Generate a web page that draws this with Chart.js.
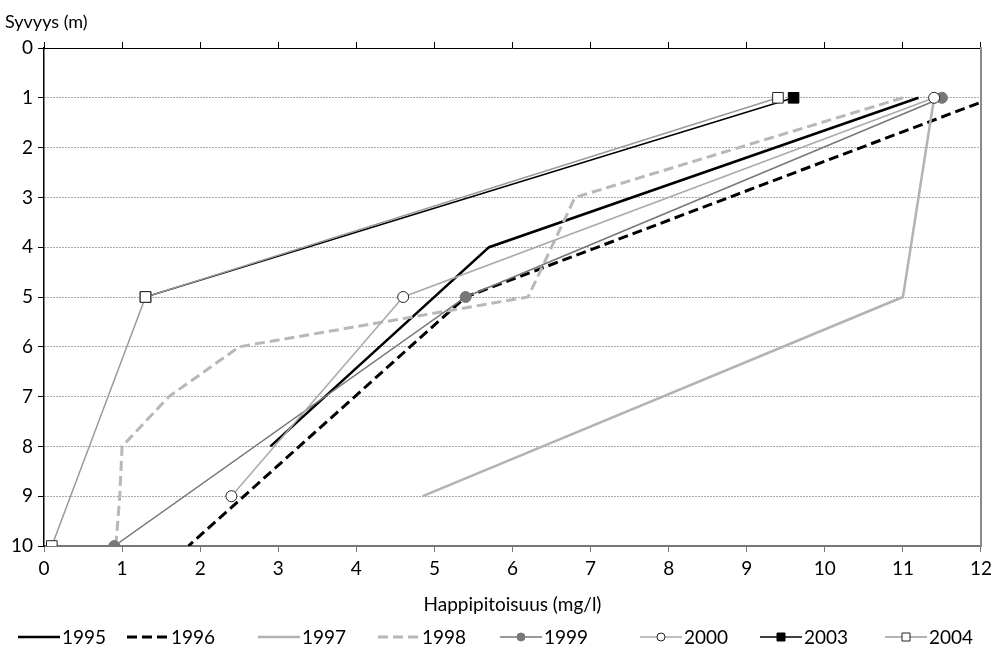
<!DOCTYPE html>
<html>
<head>
<meta charset="utf-8">
<script src="https://cdn.jsdelivr.net/npm/chart.js@4/dist/chart.umd.min.js"></script>
<style>
  html, body { margin: 0; padding: 0; background: #fff; }
  #wrap { width: 997px; height: 657px; }
</style>
</head>
<body>
<div id="wrap"><canvas id="chart"></canvas></div>
<script>
// oxygen (mg/l) against depth (m), one profile per year
var years = ['1995', '1996', '1997', '1998', '1999', '2000', '2003', '2004'];

var depth1995 = [1, 4, 8];
var oxygen1995 = [11.2, 5.7, 2.9];
var depth1996 = [1, 5, 10];
var oxygen1996 = [12.15, 5.4, 1.85];
var depth1997 = [1, 5, 9];
var oxygen1997 = [11.4, 11.0, 4.85];
var depth1998 = [1, 3, 5, 6, 7, 8, 9, 10];
var oxygen1998 = [11.0, 6.8, 6.2, 2.5, 1.6, 1.0, 0.97, 0.92];
var depth1999 = [1, 5, 10];
var oxygen1999 = [11.5, 5.4, 0.9];
var depth2000 = [1, 5, 9];
var oxygen2000 = [11.4, 4.6, 2.4];
var depth2003 = [1, 5];
var oxygen2003 = [9.6, 1.3];
var depth2004 = [1, 5, 10];
var oxygen2004 = [9.4, 1.3, 0.1];

var oxygenMin = 0, oxygenMax = 12;
var depthMin = 0, depthMax = 10;

var FONT = 'Lato, "Open Sans", sans-serif';

function points(xs, ys) {
    var out = [];
    for (var i = 0; i < xs.length; i++) out.push({x: xs[i], y: ys[i]});
    return out;
}

var series = [
    {data: points(oxygen1995, depth1995), color: '#000', width: 2.5, dash: []},
    {data: points(oxygen1996, depth1996), color: '#000', width: 3, dash: [10, 5]},
    {data: points(oxygen1997, depth1997), color: '#b3b3b3', width: 2.5, dash: []},
    {data: points(oxygen1998, depth1998), color: '#b8b8b8', width: 3, dash: [10, 5]},
    {data: points(oxygen1999, depth1999), color: '#777', width: 1.5, dash: [],
        marker: 'circle', fill: '#777', edge: '#777', r: 5.5},
    {data: points(oxygen2000, depth2000), color: '#aaa', width: 1.5, dash: [],
        marker: 'circle', fill: '#fff', edge: '#222', r: 5.5},
    {data: points(oxygen2003, depth2003), color: '#000', width: 1.5, dash: [],
        marker: 'rect', fill: '#000', edge: '#000', r: 7.5},
    {data: points(oxygen2004, depth2004), color: '#999', width: 1.5, dash: [],
        marker: 'rect', fill: '#fff', edge: '#222', r: 7.5}
];

var datasets = series.map(function(s, i) {
    return {
        label: years[i],
        data: s.data,
        showLine: true,
        borderColor: s.color,
        borderWidth: s.width,
        borderDash: s.dash,
        pointStyle: s.marker || 'circle',
        pointRadius: s.marker ? s.r : 0,
        pointHoverRadius: s.marker ? s.r : 0,
        pointBackgroundColor: s.fill || s.color,
        pointBorderColor: s.edge || s.color,
        pointBorderWidth: 1,
        order: series.length - i
    };
});

// y-axis caption and legend row under the chart
var extras = {
    id: 'extras',
    afterDraw: function(chart) {
        var ctx = chart.ctx;
        ctx.save();
        ctx.font = '18px ' + FONT;
        ctx.fillStyle = '#000';
        ctx.textBaseline = 'middle';
        ctx.textAlign = 'left';
        ctx.fillText('Syvyys (m)', 5, 22);

        var starts = [18, 127, 258, 378, 500, 640, 760, 885];
        var y = 637, len = 42;
        ctx.font = '19px ' + FONT;
        chart.data.datasets.forEach(function(ds, i) {
            var x0 = starts[i];
            ctx.beginPath();
            ctx.setLineDash(ds.borderDash);
            ctx.strokeStyle = ds.borderColor;
            ctx.lineWidth = ds.borderWidth;
            ctx.moveTo(x0, y);
            ctx.lineTo(x0 + len, y);
            ctx.stroke();
            ctx.setLineDash([]);
            if (ds.pointRadius > 0) {
                var cx = x0 + len / 2;
                ctx.beginPath();
                if (ds.pointStyle === 'rect') {
                    ctx.rect(cx - 4, y - 4, 8, 8);
                } else {
                    ctx.arc(cx, y, 4, 0, Math.PI * 2);
                }
                ctx.fillStyle = ds.pointBackgroundColor;
                ctx.fill();
                ctx.lineWidth = 1;
                ctx.strokeStyle = ds.pointBorderColor;
                ctx.stroke();
            }
            ctx.fillStyle = '#000';
            ctx.fillText(ds.label, x0 + len + 2, y + 1);
        });
        ctx.restore();
    }
};

new Chart(document.getElementById('chart'), {
    type: 'scatter',
    data: {datasets: datasets},
    plugins: [extras],
    options: {
        responsive: true,
        maintainAspectRatio: false,
        animation: false,
        layout: {padding: {left: 0, right: 14, top: 0, bottom: 41}},
        plugins: {
            legend: {display: false},
            tooltip: {enabled: false}
        },
        scales: {
            x: {
                type: 'linear',
                position: 'bottom',
                min: oxygenMin,
                max: oxygenMax,
                afterFit: function(s) { s.height = 70; },
                ticks: {stepSize: 1, color: '#000', padding: 5, font: {family: FONT, size: 19}},
                grid: {drawOnChartArea: false, drawTicks: true, tickLength: 6, tickColor: '#777', tickWidth: 1},
                border: {color: '#777', width: 2},
                title: {display: true, text: 'Happipitoisuus (mg/l)', color: '#000',
                    font: {family: FONT, size: 19}, padding: {top: 0, bottom: 0}}
            },
            x2: {
                type: 'linear',
                position: 'top',
                min: oxygenMin,
                max: oxygenMax,
                afterFit: function(s) { s.height = 48; },
                ticks: {display: false, stepSize: 1},
                grid: {drawOnChartArea: false, drawTicks: true, tickLength: 6, tickColor: '#000', tickWidth: 1},
                border: {color: '#000', width: 1}
            },
            y: {
                type: 'linear',
                position: 'left',
                reverse: true,
                min: depthMin,
                max: depthMax,
                afterFit: function(s) { s.width = 44; },
                ticks: {stepSize: 1, color: '#000', padding: 5, font: {family: FONT, size: 19}},
                grid: {color: '#555', lineWidth: 1, tickLength: 6, tickColor: '#000', tickBorderDash: []},
                border: {color: '#000', width: 1.5, dash: [1, 2]}
            },
            y2: {
                type: 'linear',
                position: 'right',
                min: depthMin,
                max: depthMax,
                afterFit: function(s) { s.width = 0; },
                ticks: {display: false},
                grid: {drawOnChartArea: false, drawTicks: false},
                border: {color: '#888', width: 2}
            }
        }
    }
});
</script>
</body>
</html>
